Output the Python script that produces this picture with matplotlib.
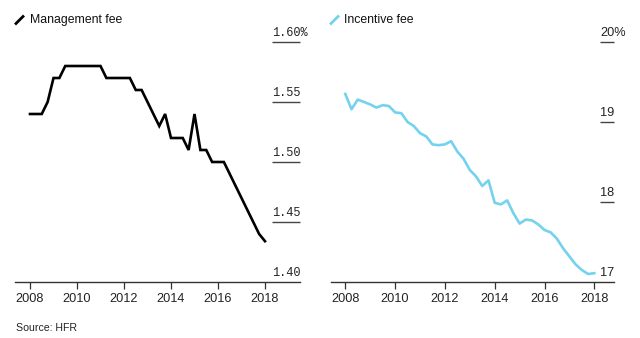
import numpy as np
import matplotlib
matplotlib.use("Agg")
import matplotlib.pyplot as plt

# Quarterly observations, 2008 Q1 through 2018 Q1
quarters = np.arange(41) / 4 + 2008

management_fee = [
    1.54, 1.54, 1.54, 1.55, 1.57, 1.57, 1.58, 1.58, 1.58, 1.58,
    1.58, 1.58, 1.58, 1.57, 1.57, 1.57, 1.57, 1.57, 1.56, 1.56,
    1.55, 1.54, 1.53, 1.54, 1.52, 1.52, 1.52, 1.51, 1.54, 1.51,
    1.51, 1.50, 1.50, 1.50, 1.49, 1.48, 1.47, 1.46, 1.45, 1.44,
    1.434,
]

incentive_fee = [
    19.35, 19.16, 19.28, 19.25, 19.22, 19.18, 19.21, 19.20, 19.12, 19.11,
    19.00, 18.95, 18.86, 18.82, 18.72, 18.71, 18.72, 18.76, 18.63, 18.54,
    18.40, 18.32, 18.20, 18.27, 17.99, 17.97, 18.02, 17.86, 17.73, 17.78,
    17.77, 17.72, 17.65, 17.62, 17.54, 17.42, 17.32, 17.22, 17.15, 17.10,
    17.11,
]

year_ticks = [2008, 2010, 2012, 2014, 2016, 2018]
mgmt_ticks = [1.40, 1.45, 1.50, 1.55, 1.60]
mgmt_labels = ["1.40", "1.45", "1.50", "1.55", "1.60%"]
inc_ticks = [17, 18, 19, 20]
inc_labels = ["17", "18", "19", "20%"]

BLACK = "#000000"
BLUE = "#74d2ee"
AXIS = "#333333"
TEXT = "#222222"

W, H = 640, 338
fig = plt.figure(figsize=(W / 100, H / 100), dpi=100)
fig.patch.set_facecolor("white")


def px_axes(x0, x1, y_top, y_bot):
    return fig.add_axes([x0 / W, 1 - y_bot / H, (x1 - x0) / W, (y_bot - y_top) / H])


def style_axes(ax, xlim, ylim):
    ax.set_xlim(*xlim)
    ax.set_ylim(*ylim)
    for s in ("top", "right", "left"):
        ax.spines[s].set_visible(False)
    ax.spines["bottom"].set_color(AXIS)
    ax.spines["bottom"].set_linewidth(1.0)
    ax.set_yticks([])
    ax.set_xticks(year_ticks)
    ax.set_xticklabels([str(y) for y in year_ticks], family="Liberation Sans",
                       fontsize=9.2, color=TEXT)
    ax.tick_params(axis="x", length=5, width=0.9, color=AXIS, pad=3)


def value_labels(ax, ticks, labels, x0, family, size):
    trans = ax.get_yaxis_transform()
    for v, lab in zip(ticks, labels):
        if v != ticks[0]:
            ax.plot([x0, 1.0], [v, v], transform=trans, color="#444444",
                    lw=1.0, clip_on=False, solid_capstyle="butt")
        ax.annotate(lab, xy=(x0, v), xycoords=trans, xytext=(0, 2.2),
                    textcoords="offset points", ha="left", va="bottom",
                    family=family, fontsize=size, color=TEXT)


# Management fee panel
ax1 = px_axes(15, 300, 42, 282)
style_axes(ax1, (2008 - 15 / 23.5, 2008 + 270 / 23.5), (1.40, 1.60))
ax1.plot(quarters, management_fee, color=BLACK, lw=1.9, solid_joinstyle="miter",
         clip_on=False)
value_labels(ax1, mgmt_ticks, mgmt_labels, (272 - 15) / 285, "Liberation Mono", 8.6)

# Incentive fee panel
ax2 = px_axes(330.7, 614, 42, 282)
style_axes(ax2, (2008 - 14.6 / 24.9, 2008 + 268.7 / 24.9), (17, 20))
ax2.plot(quarters, incentive_fee, color=BLUE, lw=1.9, clip_on=False)
value_labels(ax2, inc_ticks, inc_labels, (600 - 330.7) / 283.3, "Liberation Sans", 9.2)


# Panel titles with small line keys
def key_title(x_line, x_text, color, label):
    fig.add_artist(plt.Line2D([x_line / W, (x_line + 7) / W],
                              [1 - 23.5 / H, 1 - 16.5 / H], color=color, lw=2.0,
                              transform=fig.transFigure))
    fig.text(x_text / W, 1 - 20 / H, label, ha="left", va="center",
             family="Liberation Sans", fontsize=8.8, color="#111111")


key_title(16, 30.5, BLACK, "Management fee")
key_title(331, 344.5, BLUE, "Incentive fee")

fig.text(15.5 / W, 1 - 328 / H, "Source: HFR", ha="left", va="center",
         family="Liberation Sans", fontsize=7.6, color="#222222")

fig.savefig("out.png", dpi=100, facecolor="white")
